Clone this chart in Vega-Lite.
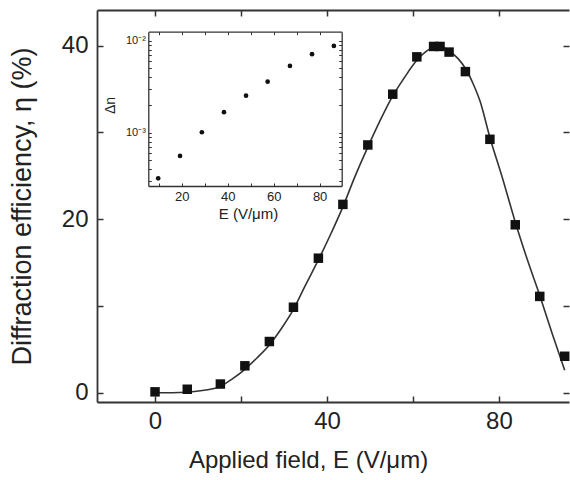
{
  "$schema": "https://vega.github.io/schema/vega-lite/v6.json",
  "width": 472,
  "height": 392,
  "autosize": {"type": "none"},
  "padding": {"left": 97, "top": 10, "right": 1, "bottom": 78},
  "background": "white",
  "config": {
    "view": {"stroke": null},
    "font": "Liberation Sans",
    "axis": {"grid": false, "labelFont": "Liberation Sans", "titleFont": "Liberation Sans", "titleFontWeight": "normal", "labelColor": "#222", "titleColor": "#222", "domainColor": "#333", "tickColor": "#333", "labelFlush": false, "labelOverlap": false}
  },
  "datasets": {
    "curve": [
      {"E": 0, "eta": 0}, {"E": 4, "eta": 0.0}, {"E": 7.4, "eta": 0.05}, {"E": 11, "eta": 0.25},
      {"E": 15.1, "eta": 0.7}, {"E": 18, "eta": 1.6}, {"E": 20.9, "eta": 2.7}, {"E": 23.7, "eta": 4.0},
      {"E": 26.6, "eta": 5.5}, {"E": 29.4, "eta": 7.4}, {"E": 32.2, "eta": 9.6}, {"E": 35, "eta": 12.4},
      {"E": 38, "eta": 15.3}, {"E": 40.8, "eta": 18.2}, {"E": 43.6, "eta": 21.3}, {"E": 46.5, "eta": 24.9},
      {"E": 49.5, "eta": 28.3}, {"E": 52.4, "eta": 31.4}, {"E": 55.3, "eta": 34.2}, {"E": 58, "eta": 36.3},
      {"E": 60.9, "eta": 38.3}, {"E": 63, "eta": 39.3}, {"E": 65.5, "eta": 39.9}, {"E": 67, "eta": 39.8},
      {"E": 68.4, "eta": 39.4}, {"E": 70.5, "eta": 38.5}, {"E": 72.3, "eta": 37.3}, {"E": 74, "eta": 35.6},
      {"E": 75.6, "eta": 33.6}, {"E": 77.9, "eta": 29.4}, {"E": 80.9, "eta": 24.6}, {"E": 83.9, "eta": 19.5},
      {"E": 86.7, "eta": 15.2}, {"E": 89.5, "eta": 11.2}, {"E": 92.4, "eta": 6.8}, {"E": 95.3, "eta": 2.6}
    ],
    "main": [
      {"E": 0, "eta": 0.1}, {"E": 7.5, "eta": 0.4}, {"E": 15.2, "eta": 1.0}, {"E": 20.9, "eta": 3.1},
      {"E": 26.6, "eta": 5.9}, {"E": 32.2, "eta": 9.85}, {"E": 38.0, "eta": 15.5}, {"E": 43.7, "eta": 21.7},
      {"E": 49.5, "eta": 28.55}, {"E": 55.3, "eta": 34.4}, {"E": 60.9, "eta": 38.7}, {"E": 64.8, "eta": 39.9},
      {"E": 66.3, "eta": 39.9}, {"E": 68.4, "eta": 39.25}, {"E": 72.2, "eta": 37.0}, {"E": 77.9, "eta": 29.2},
      {"E": 83.8, "eta": 19.35}, {"E": 89.5, "eta": 11.1}, {"E": 95.3, "eta": 4.2}
    ],
    "inset": [
      {"E": 9.8, "dn": 0.000319}, {"E": 19.3, "dn": 0.000558}, {"E": 28.8, "dn": 0.00101},
      {"E": 38.4, "dn": 0.00167}, {"E": 48.0, "dn": 0.00252}, {"E": 57.4, "dn": 0.00358},
      {"E": 67.1, "dn": 0.00531}, {"E": 76.7, "dn": 0.00712}, {"E": 86.2, "dn": 0.00876}
    ]
  },
  "layer": [
    {
      "data": {"name": "curve"},
      "mark": {"type": "line", "stroke": "#333", "strokeWidth": 1.6, "interpolate": "monotone"},
      "encoding": {
        "x": {"field": "E", "type": "quantitative",
          "scale": {"domain": [-13.5, 96.3], "nice": false, "zero": false},
          "axis": {"orient": "bottom", "values": [0, 20, 40, 60, 80],
            "labelExpr": "datum.value % 40 === 0 ? datum.label : ''",
            "tickSize": -6, "tickWidth": 1.5, "domainWidth": 1.8, "labelPadding": 13, "labelFontSize": 24,
            "title": "Applied field, E (V/μm)", "titleFontSize": 24, "titleX": 211, "titleY": 58,
            "titleAlign": "center", "titleBaseline": "middle"}},
        "y": {"field": "eta", "type": "quantitative",
          "scale": {"domain": [-1.07, 44.1], "nice": false, "zero": false},
          "axis": {"orient": "left", "values": [0, 10, 20, 30, 40],
            "labelExpr": "datum.value % 20 === 0 ? datum.label : ''",
            "tickSize": -6, "tickWidth": 1.5, "domainWidth": 1.8, "labelPadding": 15, "labelFontSize": 24,
            "title": "Diffraction efficiency, η (%)", "titleFontSize": 27, "titleX": -75, "titleY": 196,
            "titleAngle": -90, "titleAlign": "center", "titleBaseline": "middle"}}
      }
    },
    {
      "data": {"name": "main"},
      "mark": {"type": "square", "size": 90, "filled": true, "color": "#111", "opacity": 1},
      "encoding": {
        "x": {"field": "E", "type": "quantitative",
          "scale": {"domain": [-13.5, 96.3], "nice": false, "zero": false},
          "axis": {"orient": "top", "values": [0, 20, 40, 60, 80], "labels": false, "title": null,
            "tickSize": -6, "tickWidth": 1.5, "domainWidth": 1.8}},
        "y": {"field": "eta", "type": "quantitative",
          "scale": {"domain": [-1.07, 44.1], "nice": false, "zero": false},
          "axis": {"orient": "right", "values": [0, 10, 20, 30, 40], "labels": false, "title": null,
            "domain": false, "tickSize": -6, "tickWidth": 1.5}}
      }
    },
    {
      "data": {"name": "inset"},
      "mark": {"type": "circle", "size": 22, "color": "#111", "opacity": 1},
      "encoding": {
        "x": {"field": "E", "type": "quantitative",
          "scale": {"domain": [5.5, 89.6], "nice": false, "zero": false, "range": [51.3, 244.7]},
          "axis": {"orient": "bottom", "offset": -216, "values": [10, 20, 30, 40, 50, 60, 70, 80],
            "labelExpr": "datum.value % 20 === 0 ? datum.label : ''",
            "tickSize": -3, "tickWidth": 1, "domainWidth": 1.3, "labelPadding": 7, "labelFontSize": 13,
            "title": "E (V/μm)", "titleFontSize": 15, "titleX": 151, "titleY": 27,
            "titleAlign": "center", "titleBaseline": "middle"}},
        "y": {"field": "dn", "type": "quantitative",
          "scale": {"type": "log", "domain": [0.000263, 0.0125], "nice": false, "range": [176, 21.7]},
          "axis": {"orient": "left", "offset": -51.3,
            "values": [0.0003, 0.0004, 0.0005, 0.0006, 0.0007, 0.0008, 0.0009, 0.001, 0.002, 0.003, 0.004, 0.005, 0.006, 0.007, 0.008, 0.009, 0.01],
            "labelExpr": "datum.value === 0.01 ? '10⁻²' : (datum.value === 0.001 ? '10⁻³' : '')",
            "tickSize": -3, "tickWidth": 1, "domainWidth": 1.3, "labelPadding": 6, "labelFontSize": 11,
            "title": "Δn", "titleFontSize": 14, "titleX": -38, "titleY": 95, "titleAngle": -90,
            "titleAlign": "center", "titleBaseline": "middle"}}
      }
    },
    {
      "data": {"name": "inset"},
      "mark": {"type": "circle", "size": 22, "color": "#111", "opacity": 0},
      "encoding": {
        "x": {"field": "E", "type": "quantitative",
          "scale": {"domain": [5.5, 89.6], "nice": false, "zero": false, "range": [51.3, 244.7]},
          "axis": {"orient": "top", "offset": -21.7, "values": [10, 20, 30, 40, 50, 60, 70, 80],
            "labels": false, "title": null, "tickSize": -3, "tickWidth": 1, "domainWidth": 1.3}},
        "y": {"field": "dn", "type": "quantitative",
          "scale": {"type": "log", "domain": [0.000263, 0.0125], "nice": false, "range": [176, 21.7]},
          "axis": {"orient": "right", "offset": -227.3,
            "values": [0.0003, 0.0004, 0.0005, 0.0006, 0.0007, 0.0008, 0.0009, 0.001, 0.002, 0.003, 0.004, 0.005, 0.006, 0.007, 0.008, 0.009, 0.01],
            "labels": false, "title": null, "tickSize": -3, "tickWidth": 1, "domainWidth": 1.3}}
      }
    }
  ],
  "resolve": {
    "scale": {"x": "independent", "y": "independent"},
    "axis": {"x": "independent", "y": "independent"}
  }
}
